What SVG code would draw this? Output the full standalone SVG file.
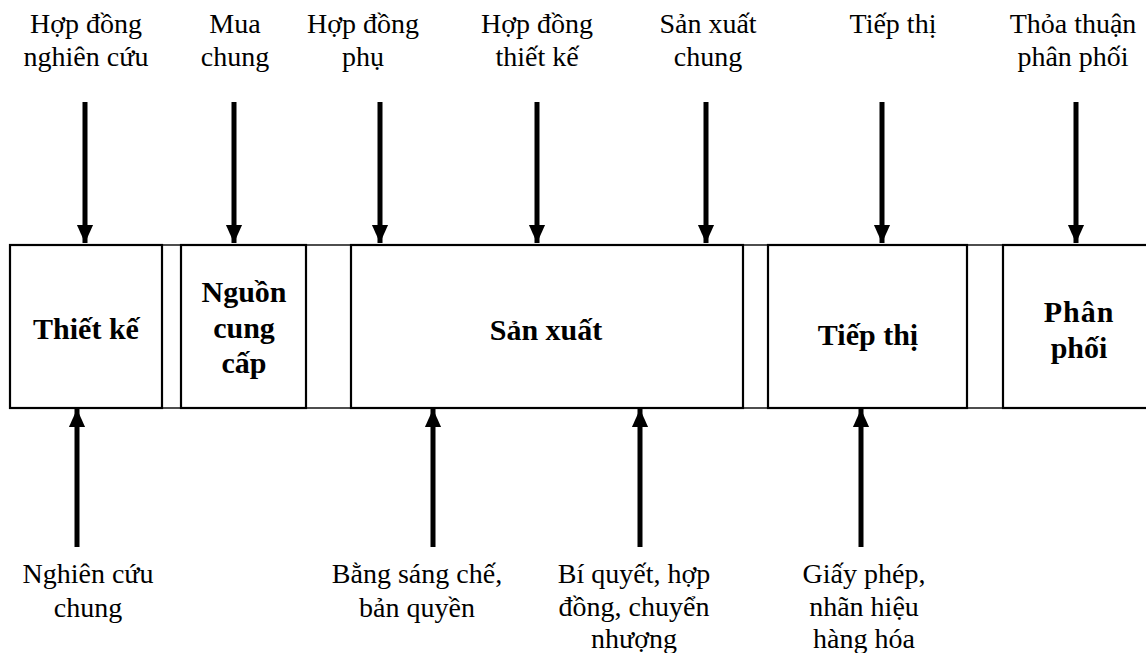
<svg xmlns="http://www.w3.org/2000/svg" width="1146" height="653" viewBox="0 0 1146 653">
<style>
.lbl{font-family:'Liberation Serif','Times New Roman',serif;font-size:28px;fill:#000;text-anchor:middle}
.box{fill:#fff;stroke:#000;stroke-width:2.2}
.strip{fill:#fff;stroke:#222;stroke-width:1.6}
.head{font-family:'Liberation Serif','Times New Roman',serif;font-size:30px;font-weight:bold;fill:#000;text-anchor:middle}
.arr{stroke:#000;stroke-width:5;fill:none}
</style>
<defs>
<marker id="ah" markerUnits="userSpaceOnUse" markerWidth="18" markerHeight="20" refX="19" refY="8.5" orient="auto" viewBox="0 0 19 17">
<path d="M0,0 L19,8.5 L0,17 Z" fill="#000"/>
</marker>
</defs>
<rect class="strip" x="10" y="245" width="1150" height="163"/>
<g id="node-thietke"><rect class="box" x="10" y="245" width="152" height="163"/><text class="head" x="86" y="339">Thiết kế</text></g>
<g id="node-nguon"><rect class="box" x="181" y="245" width="125" height="163"/><text class="head" x="244" y="302">Nguồn</text><text class="head" x="244" y="338">cung</text><text class="head" x="244" y="373">cấp</text></g>
<g id="node-sanxuat"><rect class="box" x="351" y="245" width="392" height="163"/><text class="head" x="546" y="340">Sản xuất</text></g>
<g id="node-tiepthi"><rect class="box" x="768" y="245" width="199" height="163"/><text class="head" x="868" y="345">Tiếp thị</text></g>
<g id="node-phanphoi"><rect class="box" x="1003" y="245" width="160" height="163"/><text class="head" x="1079" y="322" letter-spacing="1">Phân</text><text class="head" x="1079" y="358">phối</text></g>
<g id="connectors">
<line class="arr" x1="85" y1="102" x2="85" y2="243" marker-end="url(#ah)"/>
<line class="arr" x1="234" y1="102" x2="234" y2="243" marker-end="url(#ah)"/>
<line class="arr" x1="380" y1="102" x2="380" y2="243" marker-end="url(#ah)"/>
<line class="arr" x1="537" y1="102" x2="537" y2="243" marker-end="url(#ah)"/>
<line class="arr" x1="706" y1="102" x2="706" y2="243" marker-end="url(#ah)"/>
<line class="arr" x1="882" y1="102" x2="882" y2="243" marker-end="url(#ah)"/>
<line class="arr" x1="1076" y1="102" x2="1076" y2="243" marker-end="url(#ah)"/>
<line class="arr" x1="77" y1="547" x2="77" y2="409" marker-end="url(#ah)"/>
<line class="arr" x1="433" y1="547" x2="433" y2="409" marker-end="url(#ah)"/>
<line class="arr" x1="640" y1="547" x2="640" y2="409" marker-end="url(#ah)"/>
<line class="arr" x1="861" y1="547" x2="861" y2="409" marker-end="url(#ah)"/>
</g>
<g id="labels-top">
<text class="lbl" x="86" y="33">Hợp đồng</text><text class="lbl" x="86" y="66">nghiên cứu</text>
<text class="lbl" x="235" y="33">Mua</text><text class="lbl" x="235" y="66">chung</text>
<text class="lbl" x="363" y="33">Hợp đồng</text><text class="lbl" x="363" y="66">phụ</text>
<text class="lbl" x="537" y="33">Hợp đồng</text><text class="lbl" x="537" y="66">thiết kế</text>
<text class="lbl" x="708" y="33">Sản xuất</text><text class="lbl" x="708" y="66">chung</text>
<text class="lbl" x="893" y="33">Tiếp thị</text>
<text class="lbl" x="1073" y="33">Thỏa thuận</text><text class="lbl" x="1073" y="66">phân phối</text>
</g>
<g id="labels-bottom">
<text class="lbl" x="88" y="583">Nghiên cứu</text><text class="lbl" x="88" y="617">chung</text>
<text class="lbl" x="417" y="583">Bằng sáng chế,</text><text class="lbl" x="417" y="617">bản quyền</text>
<text class="lbl" x="634" y="583">Bí quyết, hợp</text><text class="lbl" x="634" y="616">đồng, chuyển</text><text class="lbl" x="634" y="648">nhượng</text>
<text class="lbl" x="864" y="583">Giấy phép,</text><text class="lbl" x="864" y="616">nhãn hiệu</text><text class="lbl" x="864" y="648">hàng hóa</text>
</g>
</svg>
